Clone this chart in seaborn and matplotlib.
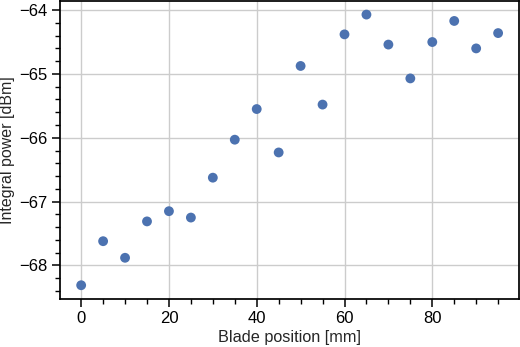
import matplotlib
matplotlib.use("Agg")
import matplotlib.pyplot as plt
import seaborn as sns
import pandas as pd
from matplotlib.ticker import MultipleLocator

blade_position = [0, 5, 10, 15, 20, 25, 30, 35, 40, 45, 50, 55, 60, 65, 70, 75, 80, 85, 90, 95]
integral_power = [-68.31, -67.62, -67.88, -67.31, -67.15, -67.25, -66.625, -66.03, -65.55, -66.23,
                  -64.875, -65.48, -64.38, -64.07, -64.54, -65.07, -64.50, -64.17, -64.60, -64.36]

df = pd.DataFrame({"x": blade_position, "y": integral_power})

sns.set_style("ticks")
plt.rcParams["font.family"] = ["Liberation Sans", "DejaVu Sans"]
plt.rcParams["axes.unicode_minus"] = True

fig = plt.figure(figsize=(5.2, 3.47), dpi=100)
ax = fig.add_axes([0.116, 0.139, 0.882, 0.858])

sns.scatterplot(data=df, x="x", y="y", ax=ax, color="#4C72B0", s=50, edgecolor="none", zorder=3)

ax.grid(True, which="major", color="#cccccc", linewidth=1.0)
ax.set_axisbelow(True)
ax.xaxis.set_major_locator(MultipleLocator(20))
ax.xaxis.set_minor_locator(MultipleLocator(5))
ax.yaxis.set_major_locator(MultipleLocator(1))
ax.yaxis.set_minor_locator(MultipleLocator(0.2))
ax.tick_params(which="major", direction="out", length=5.5, width=1.1, colors="black", labelsize=12)
ax.tick_params(which="minor", direction="out", length=3.5, width=1.0, colors="black")
for sp in ax.spines.values():
    sp.set_visible(True)
    sp.set_color("black")
    sp.set_linewidth(1.25)

ax.set_xlabel("Blade position [mm]", fontsize=11.7, labelpad=3)
ax.set_ylabel("Integral power [dBm]", fontsize=11.5, labelpad=3)

fig.savefig("out.png", dpi=100)
